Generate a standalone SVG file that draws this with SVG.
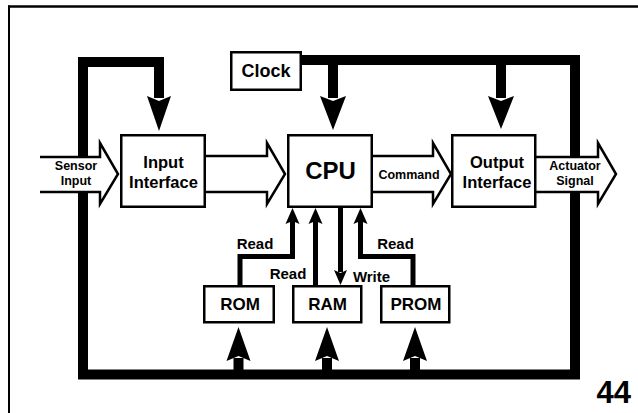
<svg xmlns="http://www.w3.org/2000/svg" width="638" height="413" viewBox="0 0 638 413">
<style>
  .box{fill:#fff;stroke:#000;stroke-width:2.5}
  .bus{fill:none;stroke:#000;stroke-width:10;stroke-linejoin:miter}
  .wire{fill:none;stroke:#000;stroke-width:5;stroke-linejoin:miter}
  .head{fill:#000;stroke:none}
  .fat{fill:#fff;stroke:#000;stroke-width:2.5;stroke-linejoin:miter}
  .fatfill{fill:#fff;stroke:none}
  text{font-family:"Liberation Sans",Arial,Helvetica,sans-serif;font-weight:bold;fill:#000;text-anchor:middle}
  .lbl{font-size:15px}
  .small{font-size:12.5px}
  .mid{font-size:16.5px}
</style>
<rect width="638" height="413" fill="#fff"/>
<!-- frame -->
<line x1="8" y1="6.5" x2="638" y2="6.5" stroke="#000" stroke-width="2.5"/>
<line x1="9" y1="5.5" x2="9" y2="413" stroke="#000" stroke-width="2"/>

<g id="connectors">
  <!-- thick bus network -->
  <path class="bus" d="M159,98 V62 H83 V374.5 H575 V60 H302"/>
  <path class="bus" d="M333,60 V98"/>
  <path class="bus" d="M501,60 V98"/>
  <path class="bus" d="M238.5,370 V358"/>
  <path class="bus" d="M327,370 V358"/>
  <path class="bus" d="M415,370 V358"/>
  <!-- thick arrowheads down -->
  <path class="head" d="M147,96 L159,101 L171,96 L159,131 Z"/>
  <path class="head" d="M320,96 L333,101 L346,96 L333,130 Z"/>
  <path class="head" d="M488,96 L501,101 L514,96 L501,129 Z"/>
  <!-- thick arrowheads up -->
  <path class="head" d="M226.5,361 L238.5,356 L250.5,361 L238.5,327 Z"/>
  <path class="head" d="M315,361 L327,356 L339,361 L327,327 Z"/>
  <path class="head" d="M403,361 L415,356 L427,361 L415,327 Z"/>
  <!-- memory wires -->
  <path class="wire" d="M240,285 V256.5 H292.5 V221"/>
  <path class="head" d="M285.5,224 L292.5,221 L299.5,224 L292.5,208 Z"/>
  <path class="wire" d="M315.5,285 V221"/>
  <path class="head" d="M308.5,224 L315.5,221 L322.5,224 L315.5,208 Z"/>
  <path class="wire" d="M340.5,208 V272"/>
  <path class="head" d="M334,270 L340.5,273 L347,270 L340.5,285 Z"/>
  <path class="wire" d="M413,285 V256.5 H360.5 V221"/>
  <path class="head" d="M353.5,224 L360.5,221 L367.5,224 L360.5,208 Z"/>
  <!-- wide data arrows -->
  <g id="sensor-input">
    <path class="fatfill" d="M40,157 H100 V143 L118,174 L100,204 V192 H40 Z"/>
    <path class="fat" d="M40,157 H100 V143 L118,174 L100,204 V192 H40"/>
    <text class="small" x="76" y="170">Sensor</text>
    <text class="small" x="76" y="185">Input</text>
  </g>
  <path class="fat" d="M206,156 H267 V143 L285,174 L267,204 V192 H206"/>
  <g id="command">
    <path class="fat" d="M373,156 H433 V143 L451,174 L433,204 V192 H373"/>
    <text class="small" x="409" y="178.5">Command</text>
  </g>
  <g id="actuator-signal">
    <path class="fat" d="M536,157 H598 V143 L616,174 L598,204 V192 H536"/>
    <text class="small" x="575" y="170">Actuator</text>
    <text class="small" x="575" y="185">Signal</text>
  </g>
  <text class="lbl" x="255" y="249">Read</text>
  <text class="lbl" x="288" y="279">Read</text>
  <text class="lbl" x="371.5" y="282">Write</text>
  <text class="lbl" x="395.5" y="249">Read</text>
</g>

<g id="clock">
  <rect class="box" x="231.25" y="52.25" width="69.5" height="37.5"/>
  <text x="266" y="77" style="font-size:18px">Clock</text>
</g>
<g id="input-interface">
  <rect class="box" x="121.25" y="135.25" width="83.5" height="71.5"/>
  <text class="mid" x="163.5" y="168">Input</text>
  <text class="mid" x="163.5" y="188">Interface</text>
</g>
<g id="cpu">
  <rect class="box" x="288.25" y="135.25" width="83.5" height="71.5"/>
  <text x="330.5" y="179" style="font-size:24px">CPU</text>
</g>
<g id="output-interface">
  <rect class="box" x="452.25" y="135.25" width="83" height="71.5"/>
  <text class="mid" x="497" y="168">Output</text>
  <text class="mid" x="497" y="188">Interface</text>
</g>
<g id="rom">
  <rect class="box" x="204.25" y="286.25" width="69.5" height="36"/>
  <text x="240" y="310" style="font-size:17px">ROM</text>
</g>
<g id="ram">
  <rect class="box" x="293.25" y="286.25" width="68" height="36"/>
  <text x="327.5" y="310" style="font-size:17px">RAM</text>
</g>
<g id="prom">
  <rect class="box" x="381.25" y="286.25" width="68" height="36"/>
  <text x="416" y="310" style="font-size:17px">PROM</text>
</g>
<text x="631" y="403" style="font-size:31px;text-anchor:end">44</text>
</svg>
